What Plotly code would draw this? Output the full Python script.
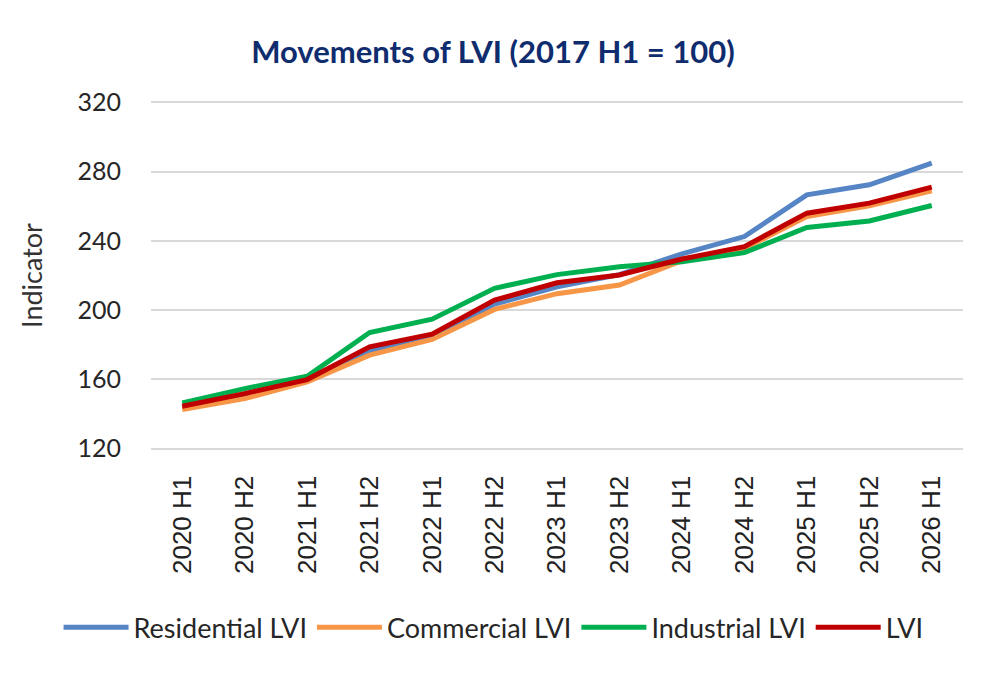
import plotly.graph_objects as go

categories = ["2020 H1", "2020 H2", "2021 H1", "2021 H2", "2022 H1", "2022 H2",
              "2023 H1", "2023 H2", "2024 H1", "2024 H2", "2025 H1", "2025 H2", "2026 H1"]

residential = [144.0, 150.5, 159.5, 176.5, 184.5, 203.5, 213.5, 220.5, 232.5, 242.5, 266.6, 272.4, 284.9]
commercial = [142.6, 148.9, 158.5, 174.0, 183.1, 200.4, 209.5, 214.5, 228.5, 235.7, 254.0, 260.2, 268.9]
industrial = [146.4, 154.7, 161.8, 187.1, 194.8, 212.6, 220.5, 225.1, 228.0, 233.2, 247.7, 251.5, 260.4]
lvi = [144.5, 151.8, 159.9, 178.8, 186.1, 205.8, 215.8, 220.3, 229.5, 236.7, 256.0, 261.8, 271.0]

y_ticks = [120, 160, 200, 240, 280, 320]

series = [
    ("Residential LVI", residential, "#5585C5"),
    ("Commercial LVI", commercial, "#F79646"),
    ("Industrial LVI", industrial, "#00B050"),
    ("LVI", lvi, "#C00000"),
]

fig = go.Figure()
for name, vals, color in series:
    fig.add_trace(go.Scatter(x=categories, y=vals, name=name, mode="lines",
                             line=dict(color=color, width=5)))

# page body has an 8px margin; work in figure coordinates
OFF = 8
W = 1000 - OFF
H = 678 - OFF
plot_left = 150.5 - OFF
plot_right = 963 - OFF
y120_px = 448.3 - OFF
y320_px = 102.7 - OFF
ppu = (y120_px - y320_px) / 200.0

pad = 2.5
y_lo, y_hi = 120 - pad, 320 + pad
plot_top = y320_px - pad * ppu
plot_bottom = y120_px + pad * ppu
plot_w = plot_right - plot_left
plot_h = plot_bottom - plot_top

legend_left = 58 - OFF      # legend box left edge (figure px)
legend_mid = 627 - OFF      # legend vertical centre (figure px)

fig.update_layout(
    width=W, height=H,
    paper_bgcolor="white", plot_bgcolor="white",
    margin=dict(l=plot_left, r=W - plot_right, t=plot_top, b=H - plot_bottom,
                autoexpand=False),
    title=dict(text="<b>Movements of LVI (2017 H1 = 100)</b>",
               x=(493 - OFF) / W, xanchor="center", xref="container",
               y=1 - (52 - OFF) / H, yanchor="middle", yref="container",
               font=dict(family="Lato", size=31, color="#0E2C6E")),
    showlegend=True,
    legend=dict(orientation="h",
                x=(legend_left - plot_left) / plot_w, xanchor="left", xref="paper",
                y=(plot_bottom - legend_mid) / plot_h, yanchor="middle", yref="paper",
                font=dict(family="Lato", size=27, color="#262626"),
                itemwidth=65, tracegroupgap=0, bgcolor="rgba(0,0,0,0)"),
    font=dict(family="Lato", color="#333333"),
)

fig.update_xaxes(
    type="category", range=[-0.5, len(categories) - 0.5],
    tickangle=-90, tickfont=dict(family="Liberation Sans", size=26, color="#222222"),
    ticks="outside", ticklen=7 + pad * ppu, tickcolor="rgba(0,0,0,0)",
    showgrid=False, showline=False, zeroline=False, automargin=False,
)
fig.update_yaxes(
    range=[y_lo, y_hi], tickvals=y_ticks,
    tickfont=dict(family="Lato", size=25, color="#262626"),
    ticks="outside", ticklen=24, tickcolor="rgba(0,0,0,0)",
    showgrid=True, gridcolor="#D9D9D9", gridwidth=1.5,
    showline=False, zeroline=False, automargin=False,
    title=dict(text="Indicator", standoff=27,
               font=dict(family="Lato", size=27, color="#333333")),
)

fig.write_html("out.html")
